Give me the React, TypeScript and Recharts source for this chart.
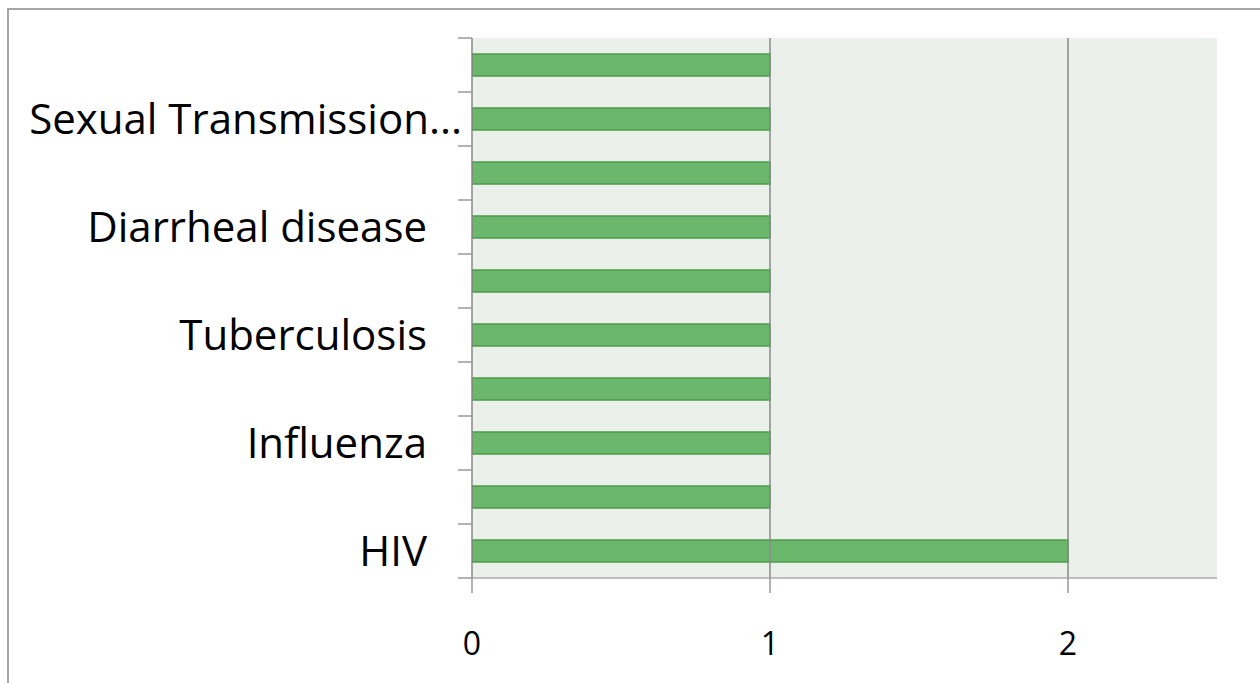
import React from 'react';
import { BarChart, Bar, XAxis, YAxis, CartesianGrid, ReferenceLine } from 'recharts';

// bottom-to-top order; unlabeled rows in the reference have empty labels
const categories = ['HIV', '', 'Influenza', '', 'Tuberculosis', '', 'Diarrheal disease', '', 'Sexual Transmission...', ''];
const values = [2, 1, 1, 1, 1, 1, 1, 1, 1, 1];
const xTicks = [0, 1, 2];
const gridLines = [1, 2];
const xDomain = [0, 2.5];

const data = categories.map((name, i) => ({ name, value: values[i] }));

const FONT = '"Open Sans", Lato, sans-serif';
const BAND = 54;

const YTick = (props: any) => {
  const { x, y, payload, index } = props;
  const label: string = payload.value;
  const long = label.endsWith('...');
  return (
    <g>
      <line x1={x - 14} x2={x} y1={y - BAND / 2} y2={y - BAND / 2} stroke="#999" strokeWidth={1.5} />
      {index === 0 && (
        <line x1={x - 14} x2={x} y1={y + BAND / 2} y2={y + BAND / 2} stroke="#999" strokeWidth={1.5} />
      )}
      {label && (
        <text
          x={long ? x - 10 : x - 45}
          y={y}
          dy="0.36em"
          textAnchor="end"
          fill="#000"
          fontSize={42}
          fontFamily={FONT}
        >
          {label}
        </text>
      )}
    </g>
  );
};

export default function App() {
  return (
    <div style={{ position: 'absolute', left: 0, top: 0, width: 1260, height: 683, overflow: 'hidden', background: '#fff' }}>
      <div
        style={{
          position: 'absolute',
          left: 7,
          top: 8,
          width: 1400,
          height: 800,
          borderLeft: '2px solid #a6a6a6',
          borderTop: '2px solid #a6a6a6',
        }}
      />
      <div style={{ position: 'absolute', left: 0, top: 0 }}>
        <BarChart
          width={1260}
          height={683}
          data={data}
          layout="vertical"
          margin={{ top: 38, right: 43, bottom: 35, left: 0 }}
        >
          <CartesianGrid horizontal={false} vertical={false} fill="#ebf1ea" />
          {gridLines.map((g) => (
            <ReferenceLine key={g} x={g} stroke="#8a8a8a" strokeWidth={1.5} />
          ))}
          <XAxis
            type="number"
            domain={xDomain}
            ticks={xTicks}
            allowDataOverflow
            height={70}
            tickSize={15}
            tickMargin={39}
            axisLine={{ stroke: '#aaa', strokeWidth: 1.5 }}
            tickLine={{ stroke: '#999', strokeWidth: 1.5 }}
            tick={{ fill: '#000', fontSize: 32, fontFamily: FONT }}
          />
          <YAxis
            type="category"
            dataKey="name"
            reversed
            width={472}
            interval={0}
            tickSize={0}
            tickMargin={0}
            tickLine={false}
            axisLine={{ stroke: '#8a8a8a', strokeWidth: 1.5 }}
            tick={<YTick />}
          />
          <Bar dataKey="value" barSize={22} fill="#6bb76b" stroke="#4e9a4e" strokeWidth={1.5} isAnimationActive={false} />
        </BarChart>
      </div>
    </div>
  );
}
